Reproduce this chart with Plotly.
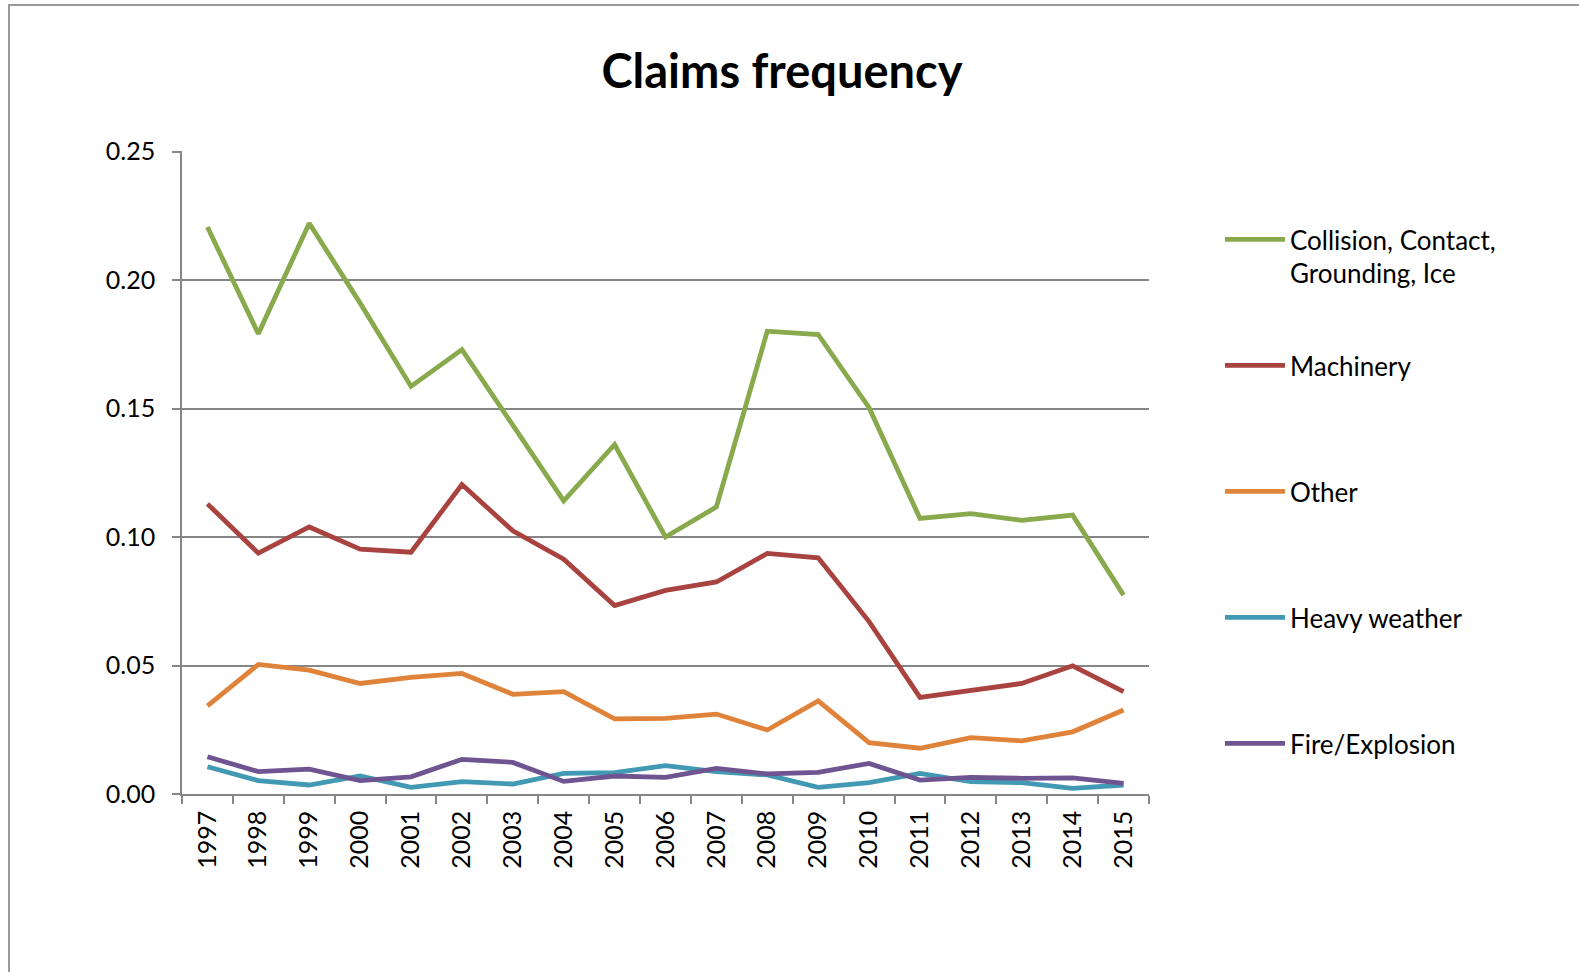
import plotly.graph_objects as go

# Claim frequency by cause, 1997-2015
years = [str(y) for y in range(1997, 2016)]

collision = [0.2206, 0.1791, 0.2221, 0.1910, 0.1586, 0.1729, 0.1435, 0.1141, 0.1360, 0.1000,
             0.1117, 0.1801, 0.1788, 0.1503, 0.1072, 0.1091, 0.1065, 0.1085, 0.0774]
machinery = [0.1129, 0.0937, 0.1039, 0.0953, 0.0941, 0.1204, 0.1024, 0.0914, 0.0733, 0.0792,
             0.0825, 0.0936, 0.0919, 0.0671, 0.0376, 0.0404, 0.0430, 0.0499, 0.0398]
other = [0.0343, 0.0504, 0.0482, 0.0430, 0.0454, 0.0469, 0.0388, 0.0398, 0.0292, 0.0294,
         0.0311, 0.0249, 0.0362, 0.0200, 0.0178, 0.0219, 0.0207, 0.0242, 0.0327]
heavy_weather = [0.0106, 0.0052, 0.0035, 0.0070, 0.0026, 0.0048, 0.0039, 0.0080, 0.0083, 0.0110,
                 0.0087, 0.0074, 0.0026, 0.0044, 0.0080, 0.0048, 0.0044, 0.0022, 0.0035]
fire_explosion = [0.0145, 0.0087, 0.0097, 0.0052, 0.0067, 0.0135, 0.0123, 0.0049, 0.0070, 0.0065,
                  0.0100, 0.0078, 0.0084, 0.0119, 0.0054, 0.0065, 0.0061, 0.0063, 0.0041]

series_names = ["Collision, Contact,<br>Grounding, Ice", "Machinery<br> ", "Other<br> ",
                "Heavy weather<br> ", "Fire/Explosion<br> "]
series_values = [collision, machinery, other, heavy_weather, fire_explosion]
series_colors = ["#88A94C", "#A9433F", "#E0833A", "#4299B3", "#6E5592"]

FONT = "Lato, 'Open Sans', sans-serif"
W, H = 1579, 972
L, R, T, B = 182, 1149, 151, 794  # plot area in pixels
LEG_FS = 26
TICK_FS = 25

fig = go.Figure()
for i, (name, vals, col) in enumerate(zip(series_names, series_values, series_colors)):
    fig.add_trace(go.Scatter(
        x=years, y=vals, name=name, mode="lines",
        line=dict(color=col, width=4.8),
        legendgroup=f"g{i}",
    ))

def px_x(x):
    return (x - L) / (R - L)

def px_y(y):
    return (B - y) / (B - T)

# item height = 2 lines * 1.3 * font + 3; gap brings item pitch to ~126 px
item_h = 2 * 1.3 * LEG_FS + 3
gap = 126 - item_h

fig.update_layout(
    width=W, height=H,
    margin=dict(l=L, r=W - R, t=T, b=H - B),
    paper_bgcolor="white", plot_bgcolor="white",
    font=dict(family=FONT, size=TICK_FS, color="black"),
    title=dict(text="<b>Claims frequency</b>", x=782 / W, xanchor="center",
               y=1 - 72 / H, yanchor="middle",
               font=dict(family=FONT, size=47, color="black")),
    showlegend=True,
    legend=dict(
        x=px_x(1220), xanchor="left", y=px_y(216), yanchor="top",
        valign="top", tracegroupgap=gap, bgcolor="rgba(0,0,0,0)",
        itemwidth=60,
        font=dict(family=FONT, size=LEG_FS, color="black"),
        itemclick=False,
    ),
    xaxis=dict(
        type="category", tickson="boundaries", ticks="outside", ticklen=8,
        tickcolor="#868686", tickwidth=1.5,
        showline=True, linecolor="#868686", linewidth=1.5,
        showgrid=False, tickangle=-90, range=[-0.5, len(years) - 0.5],
        ticklabelstandoff=5,
        tickfont=dict(family=FONT, size=TICK_FS, color="black"),
        fixedrange=True,
    ),
    yaxis=dict(
        range=[0, 0.2502], tickvals=[0, 0.05, 0.10, 0.15, 0.20, 0.25],
        tickformat=".2f", ticks="outside", ticklen=8, tickcolor="#868686", tickwidth=1.5,
        showline=True, linecolor="#868686", linewidth=1.5,
        showgrid=True, gridcolor="#868686", gridwidth=1.5, zeroline=False,
        ticklabelstandoff=12,
        tickfont=dict(family=FONT, size=TICK_FS, color="black"),
        fixedrange=True,
    ),
    shapes=[dict(
        type="path", xref="paper", yref="paper",
        path=f"M {px_x(9)} {px_y(H + 20)} L {px_x(9)} {px_y(5)} L {px_x(W + 20)} {px_y(5)}",
        line=dict(color="#9a9a9a", width=2),
    )],
)

fig.write_html("out.html", config={"displayModeBar": False})
